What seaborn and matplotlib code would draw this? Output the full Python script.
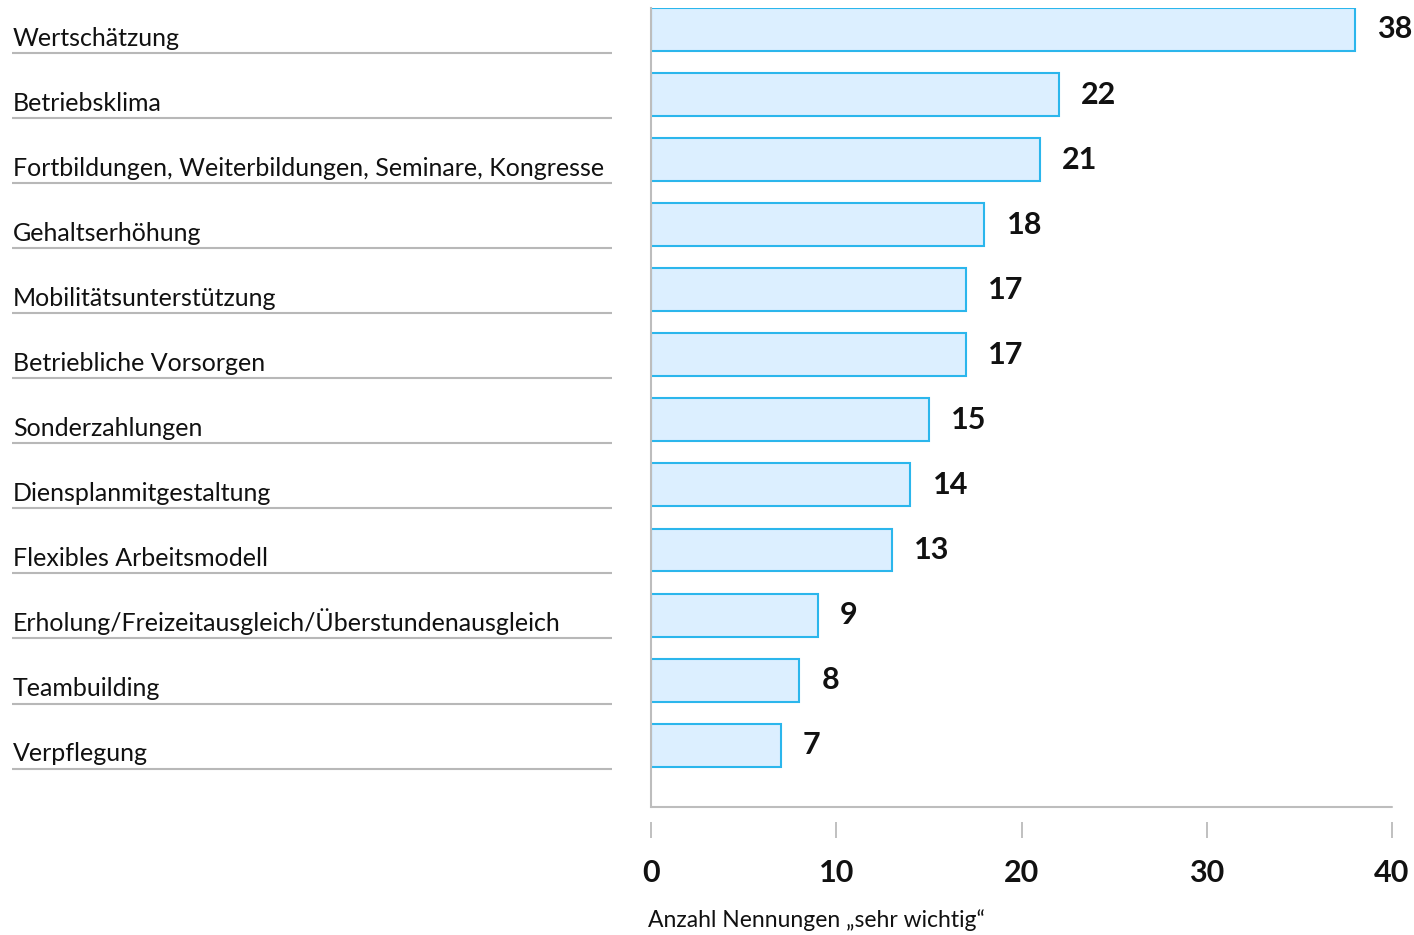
import matplotlib
matplotlib.use("Agg")
import matplotlib.pyplot as plt
import seaborn as sns
import pandas as pd

categories = [
    "Wertschätzung",
    "Betriebsklima",
    "Fortbildungen, Weiterbildungen, Seminare, Kongresse",
    "Gehaltserhöhung",
    "Mobilitätsunterstützung",
    "Betriebliche Vorsorgen",
    "Sonderzahlungen",
    "Diensplanmitgestaltung",
    "Flexibles Arbeitsmodell",
    "Erholung/Freizeitausgleich/Überstundenausgleich",
    "Teambuilding",
    "Verpflegung",
]
values = [38, 22, 21, 18, 17, 17, 15, 14, 13, 9, 8, 7]
x_ticks = [0, 10, 20, 30, 40]
x_label = "Anzahl Nennungen \u201esehr wichtig\u201c"

sns.set_theme(style="white")
fams = ["Lato", "DejaVu Sans"]
plt.rcParams["font.family"] = fams

W, H = 1414, 935
fig = plt.figure(figsize=(W / 100, H / 100), dpi=100)
fig.patch.set_facecolor("white")

top_px, bot_px = 8, 807
ax = fig.add_axes([651 / W, 1 - bot_px / H, (1392 - 651) / W, (bot_px - top_px) / H])
axl = fig.add_axes([0, 1 - bot_px / H, 612 / W, (bot_px - top_px) / H], sharey=ax)

df = pd.DataFrame({"cat": categories, "val": values})
sns.barplot(data=df, x="val", y="cat", ax=ax, orient="h", width=0.66,
            color="#dcefff", edgecolor="#2bb6ec", linewidth=1.5, saturation=1)

ax.set_xlim(0, 40)
ax.set_ylim(11.95, -0.33)
ax.set_yticks([])
ax.set_xlabel("")
ax.set_ylabel("")
for s in ["top", "right"]:
    ax.spines[s].set_visible(False)
ax.spines["left"].set_color("#bdbdbd")
ax.spines["left"].set_linewidth(1.5)
ax.spines["bottom"].set_position(("outward", 11))
ax.spines["bottom"].set_color("none")
ax.tick_params(axis="x", direction="out", length=11.5, width=1.2, color="#b5b5b5",
               pad=15, bottom=True, labelsize=22, labelcolor="#111111")
ax.set_xticks(x_ticks)
ax.set_xticklabels([str(t) for t in x_ticks], fontsize=22, fontweight="bold", color="#111111")
ax.plot([0, 1], [0, 0], transform=ax.transAxes, color="#bdbdbd", lw=1.5, clip_on=False)

for i, v in enumerate(values):
    ax.annotate(str(v), xy=(v, i), xytext=(16, 0), textcoords="offset points",
                ha="left", va="center", fontsize=22, fontweight="bold", color="#111111")

# left label panel
axl.set_xlim(0, 612)
axl.axis("off")
for i, c in enumerate(categories):
    axl.hlines(i + 0.36, 12, 612, color="#b8b8b8", lw=1.5)
    axl.text(13, i + 0.25, c, ha="left", va="baseline", fontsize=18, color="#111111")

fig.text(648 / W, 1 - 920 / H, x_label, ha="left", va="center", fontsize=16.5, color="#111111")

fig.savefig("out.png", dpi=100, facecolor="white")
